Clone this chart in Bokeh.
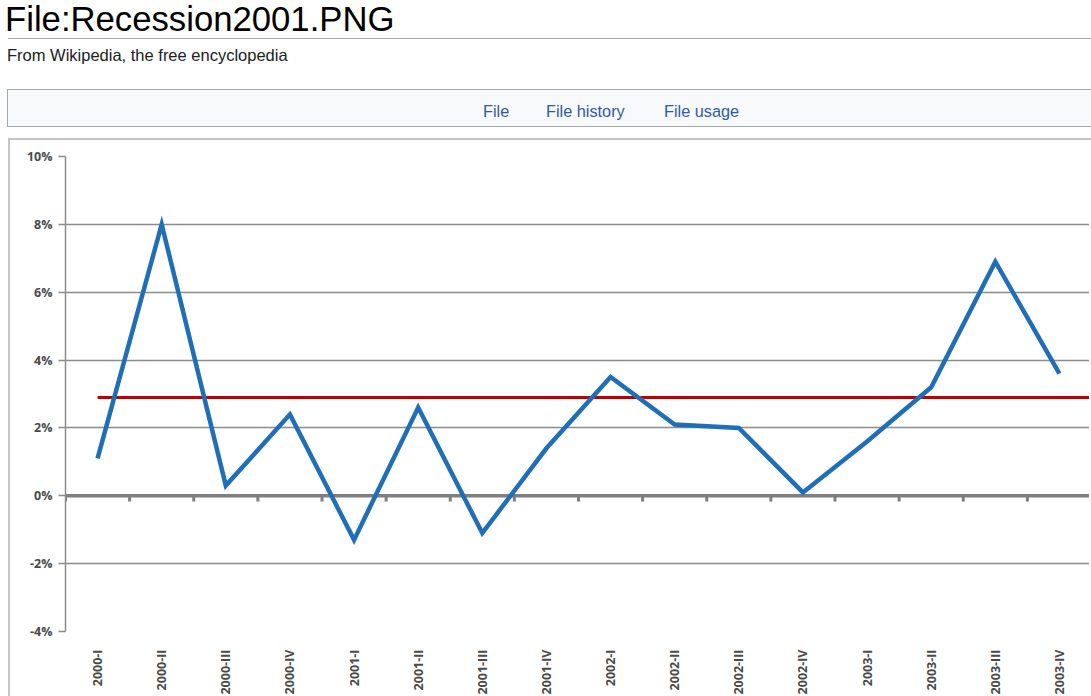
import math
from bokeh.plotting import figure
from bokeh.models import Range1d, FixedTicker, PrintfTickFormatter, Span, Div
from bokeh.layouts import column
from bokeh.embed import file_html
from bokeh.resources import INLINE

# ---------------- data ----------------
quarters = ["2000-I", "2000-II", "2000-III", "2000-IV",
            "2001-I", "2001-II", "2001-III", "2001-IV",
            "2002-I", "2002-II", "2002-III", "2002-IV",
            "2003-I", "2003-II", "2003-III", "2003-IV"]
growth = [1.1, 8.0, 0.3, 2.4, -1.3, 2.6, -1.1, 1.4,
          3.5, 2.1, 2.0, 0.1, 1.6, 3.2, 6.9, 3.6]
reference_level = 2.9
y_ticks = [-4, -2, 0, 2, 4, 6, 8, 10]

page_title = "File:Recession2001.PNG"
page_subtitle = "From Wikipedia, the free encyclopedia"
tab_labels = ["File", "File history", "File usage"]
tab_lefts = [475, 538, 656]

# ---------------- page header ----------------
FONT = "'Liberation Sans', Arial, Helvetica, sans-serif"
tabs_html = "".join(
    f'<span style="position:absolute;left:{x}px;top:12px;font-size:16.3px;line-height:19px;color:#3059a8;white-space:nowrap;">{t}</span>'
    for t, x in zip(tab_labels, tab_lefts)
)
header_html = f"""
<div style="position:relative;width:1091px;height:140px;font-family:{FONT};overflow:hidden;">
  <div style="position:absolute;left:5px;top:0px;font-size:34.7px;line-height:38px;color:#000;white-space:nowrap;">{page_title}</div>
  <div style="position:absolute;left:8px;top:38px;width:1090px;height:1px;background:#a2a9b1;"></div>
  <div style="position:absolute;left:7px;top:46px;font-size:16.5px;line-height:19px;color:#202122;white-space:nowrap;">{page_subtitle}</div>
  <div style="position:absolute;left:7px;top:89px;width:1100px;height:38px;background:#f8f9fa;border:1px solid #a2a9b1;">
    {tabs_html}
  </div>
  <div style="position:absolute;left:8px;top:138px;width:1090px;height:2px;background:#c4c4c4;"></div>
</div>
"""
header = Div(text=header_html, width=1091, height=140, margin=0)

# ---------------- chart ----------------
n = len(quarters)
px_per_cat = 64
frame_w = px_per_cat * n
frame_h = 475

p = figure(
    frame_width=frame_w, frame_height=frame_h,
    x_range=Range1d(-0.5, n - 0.5),
    y_range=Range1d(min(y_ticks), max(y_ticks)),
    output_backend="svg", toolbar_location=None,
    min_border_left=55, min_border_right=0,
    min_border_top=16, min_border_bottom=5,
    outline_line_color=None, background_fill_color="white",
    border_fill_color="white", margin=(0, 0, 0, 8),
    styles={"border-left": "2px solid #c4c4c4"},
)

grid_color = "#8c8c8c"
text_color = "#4a4a4a"

# y axis
p.yaxis.ticker = FixedTicker(ticks=y_ticks)
p.yaxis.formatter = PrintfTickFormatter(format="%d%%")
p.yaxis.axis_line_color = grid_color
p.yaxis.axis_line_width = 1.5
p.yaxis.major_tick_line_color = grid_color
p.yaxis.major_tick_line_width = 1.5
p.yaxis.major_tick_out = 7
p.yaxis.major_tick_in = 0
p.yaxis.minor_tick_line_color = None
p.yaxis.major_label_standoff = 6
p.yaxis.major_label_text_font = "Open Sans"
p.yaxis.major_label_text_font_size = "12.5px"
p.yaxis.major_label_text_font_style = "bold"
p.yaxis.major_label_text_color = text_color

# x axis (labels only)
p.xaxis.ticker = FixedTicker(ticks=list(range(n)))
p.xaxis.major_label_overrides = {i: q for i, q in enumerate(quarters)}
p.xaxis.major_label_orientation = math.pi / 2
p.xaxis.axis_line_color = None
p.xaxis.major_tick_line_color = None
p.xaxis.minor_tick_line_color = None
p.xaxis.major_label_standoff = 12
p.xaxis.major_label_text_font = "Open Sans"
p.xaxis.major_label_text_font_size = "12.5px"
p.xaxis.major_label_text_font_style = "bold"
p.xaxis.major_label_text_color = text_color

# grid
p.xgrid.grid_line_color = None
p.ygrid.ticker = FixedTicker(ticks=y_ticks)
p.ygrid.grid_line_color = grid_color
p.ygrid.grid_line_width = 1.4

# zero axis with category boundary ticks
p.add_layout(Span(location=0, dimension="width", line_color="#7f7f7f",
                  line_width=3.5, level="underlay"))
bounds = [i - 0.5 for i in range(n + 1)]
p.segment(x0=bounds, y0=[0] * len(bounds), x1=bounds, y1=[-0.17] * len(bounds),
          line_color="#7f7f7f", line_width=3)

# reference level
p.line(x=[0, n - 0.5], y=[reference_level, reference_level],
       line_color="#c00000", line_width=3)

# growth series
p.line(x=list(range(n)), y=growth, line_color="#1f6fb8", line_width=4.5,
       line_join="miter")

layout = column(header, p, spacing=0, margin=0)

open("out.html", "w").write(file_html(layout, INLINE))
